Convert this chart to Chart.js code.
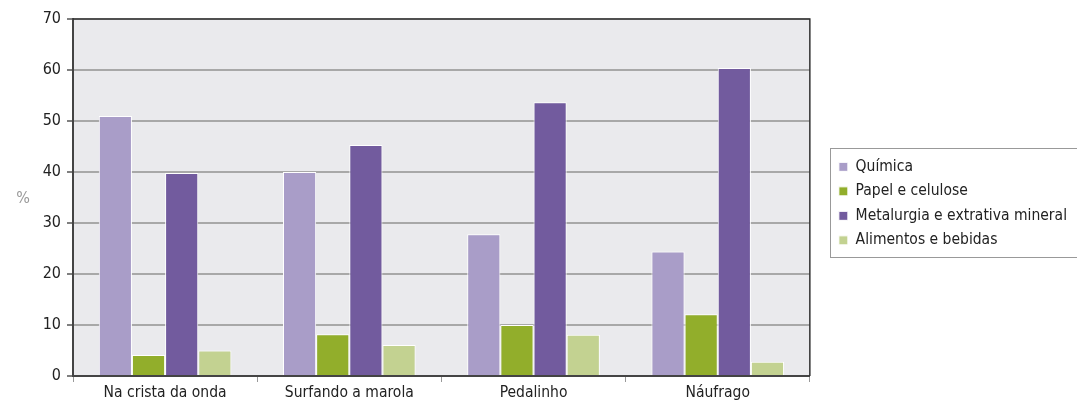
<!DOCTYPE html>
<html>
<head>
<meta charset="utf-8">
<script src="https://cdn.jsdelivr.net/npm/chart.js@4"></script>
<style>
  html, body { margin: 0; padding: 0; background: #fff; }
  #wrap { width: 1077px; height: 402px; position: relative; }
</style>
</head>
<body>
<div id="wrap"><canvas id="myChart"></canvas></div>
<script>
var categories = ["Na crista da onda", "Surfando a marola", "Pedalinho", "Náufrago"];
var quimica = [51, 40, 27.8, 24.4];
var papel = [4.1, 8.2, 10, 12.1];
var metalurgia = [39.8, 45.3, 53.7, 60.4];
var alimentos = [5, 6.1, 8.1, 2.8];
var yTicks = [0, 10, 20, 30, 40, 50, 60, 70];

var FONT = "'Liberation Sans Narrow', 'DejaVu Sans Condensed', Lato, sans-serif";

var ctx = document.getElementById("myChart").getContext("2d");

function bar(label, values, color) {
  return {
    label: label,
    data: values,
    backgroundColor: color,
    borderColor: "#ffffff",
    borderWidth: 1,
    categoryPercentage: 0.72,
    barPercentage: 1.0,
  };
}

// plot background + frame + "%" label + legend box
var decor = {
  id: "decor",
  beforeDraw: function (chart) {
    var a = chart.chartArea, c = chart.ctx;
    c.save();
    c.fillStyle = "#eaeaed";
    c.fillRect(a.left, a.top, a.right - a.left, a.bottom - a.top);
    c.restore();
  },
  afterDraw: function (chart) {
    var a = chart.chartArea, c = chart.ctx;
    c.save();
    c.strokeStyle = "#333";
    c.lineWidth = 1.5;
    c.beginPath();
    c.moveTo(a.left, a.top);
    c.lineTo(a.right, a.top);
    c.lineTo(a.right, a.bottom);
    c.stroke();

    c.fillStyle = "#999";
    c.font = "16px " + FONT;
    c.textAlign = "center";
    c.textBaseline = "middle";
    c.fillText("%", 23, 199);

    var boxes = chart.legend.legendHitBoxes;
    if (boxes && boxes.length) {
      var first = boxes[0], last = boxes[boxes.length - 1];
      c.strokeStyle = "#999";
      c.lineWidth = 1;
      c.strokeRect(Math.round(first.left - 9) + 0.5, Math.round(first.top - 11) + 0.5, 400,
        Math.round(last.top + last.height - first.top + 20));
    }
    c.restore();
  },
};

new Chart(ctx, {
  type: "bar",
  data: {
    labels: categories,
    datasets: [
      bar("Química", quimica, "#a99dc8"),
      bar("Papel e celulose", papel, "#92ae2b"),
      bar("Metalurgia e extrativa mineral", metalurgia, "#725b9e"),
      bar("Alimentos e bebidas", alimentos, "#c3d291"),
    ],
  },
  options: {
    responsive: true,
    maintainAspectRatio: false,
    animation: false,
    layout: { padding: { top: 19, right: 0, bottom: 0, left: 0 } },
    plugins: {
      tooltip: { enabled: false },
      legend: {
        position: "right",
        fullSize: false,
        maxWidth: 400,
        title: { display: true, text: " ", font: { size: 1 }, padding: { top: 0, bottom: 11 } },
        labels: {
          boxWidth: 9,
          boxHeight: 9,
          padding: 9,
          color: "#222",
          font: { family: FONT, size: 15.5 },
        },
      },
    },
    scales: {
      x: {
        grid: {
          display: true,
          drawOnChartArea: false,
          drawTicks: true,
          tickLength: 6,
          color: "#999",
        },
        border: { display: true, color: "#444", width: 2 },
        ticks: { color: "#222", padding: 2, font: { family: FONT, size: 15.5 } },
        afterFit: function (s) { s.height = 26; },
      },
      y: {
        min: 0,
        max: 70,
        afterBuildTicks: function (s) {
          s.ticks = yTicks.map(function (v) { return { value: v }; });
        },
        grid: {
          color: "#a8a8a8",
          lineWidth: 2,
          tickLength: 6,
          tickColor: "#555",
          tickWidth: 1.5,
        },
        border: { display: true, color: "#444", width: 2 },
        ticks: { color: "#222", padding: 6, font: { family: FONT, size: 16 } },
        afterFit: function (s) { s.width = 73; },
      },
      gap: {
        position: "right",
        type: "linear",
        display: true,
        grid: { display: false },
        border: { display: false },
        ticks: { display: false },
        afterFit: function (s) { s.width = 20; },
      },
    },
  },
  plugins: [decor],
});
</script>
</body>
</html>
